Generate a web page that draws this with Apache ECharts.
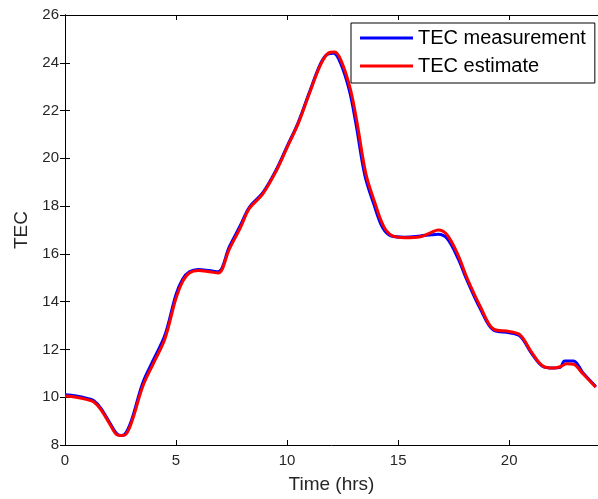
<!DOCTYPE html>
<html>
<head>
<meta charset="utf-8">
<script src="https://cdn.jsdelivr.net/npm/echarts@6/dist/echarts.min.js"></script>
<style>html,body{margin:0;padding:0;background:#fff;}#c{width:598px;height:499px;}</style>
</head>
<body>
<div id="c"></div>
<script>
var timesMeas = [0, 0.5, 1.0, 1.3, 1.6, 2.0, 2.3, 2.5, 2.7, 3.0, 3.5, 4.0, 4.5, 5.0, 5.3, 5.6, 6.0, 6.5, 6.9, 7.4, 7.9, 8.3, 8.9, 9.5, 10.0, 10.5, 11.0, 11.5, 11.8, 12.1, 12.4, 12.8, 13.1, 13.5, 13.9, 14.3, 14.7, 15.3, 16.0, 16.5, 16.8, 17.2, 17.7, 18.1, 18.7, 19.3, 20.0, 20.5, 21.0, 21.5, 22.0, 22.3, 22.5, 22.9, 23.3, 23.9];
var tecMeasurement = [10.1, 10.05, 9.95, 9.85, 9.55, 8.95, 8.5, 8.4, 8.45, 9.05, 10.6, 11.6, 12.6, 14.3, 14.95, 15.25, 15.35, 15.3, 15.25, 16.3, 17.2, 17.95, 18.55, 19.5, 20.5, 21.5, 22.75, 23.95, 24.35, 24.4, 24.0, 22.85, 21.45, 19.3, 18.1, 17.1, 16.75, 16.7, 16.75, 16.8, 16.82, 16.65, 15.8, 14.9, 13.7, 12.8, 12.7, 12.55, 11.85, 11.3, 11.22, 11.25, 11.52, 11.52, 11.05, 10.45];

var timesEst = [0, 0.5, 1.0, 1.3, 1.6, 2.0, 2.3, 2.5, 2.7, 3.0, 3.5, 4.0, 4.5, 5.0, 5.3, 5.6, 6.0, 6.5, 6.9, 7.4, 7.9, 8.3, 8.9, 9.5, 10.0, 10.5, 11.0, 11.5, 11.85, 12.15, 12.45, 12.85, 13.15, 13.55, 13.95, 14.35, 14.75, 15.3, 16.0, 16.5, 16.8, 17.2, 17.7, 18.1, 18.7, 19.3, 20.0, 20.5, 21.0, 21.5, 22.0, 22.3, 22.6, 22.9, 23.3, 23.9];
var tecEstimate = [10.05, 10.0, 9.9, 9.8, 9.5, 8.9, 8.45, 8.4, 8.42, 8.95, 10.45, 11.45, 12.45, 14.15, 14.85, 15.2, 15.3, 15.25, 15.2, 16.2, 17.1, 17.9, 18.5, 19.45, 20.45, 21.45, 22.7, 23.9, 24.4, 24.45, 24.05, 22.9, 21.5, 19.35, 18.15, 17.15, 16.75, 16.68, 16.72, 16.9, 17.0, 16.8, 15.95, 15.0, 13.8, 12.85, 12.75, 12.6, 11.9, 11.32, 11.22, 11.28, 11.4, 11.38, 11.0, 10.42];

var xTicks = [0, 5, 10, 15, 20];
var yTicks = [8, 10, 12, 14, 16, 18, 20, 22, 24, 26];

function pairs(t, v) { return t.map(function (x, i) { return [x, v[i]]; }); }

var chart = echarts.init(document.getElementById('c'));
var font = '"Liberation Sans", Arial, sans-serif';
var axisCol = '#000';
var txtCol = '#262626';

chart.setOption({
  animation: false,
  backgroundColor: '#fff',
  textStyle: { fontFamily: font },
  grid: { left: 65, top: 15, width: 535, height: 430, containLabel: false },
  xAxis: [{
    type: 'value', min: 0, max: 24, interval: 5, position: 'bottom',
    name: 'Time (hrs)', nameLocation: 'middle', nameGap: 30,
    nameTextStyle: { fontSize: 19, color: txtCol, fontFamily: font },
    axisLine: { show: true, lineStyle: { color: axisCol, width: 1 } },
    axisTick: { show: true, inside: true, length: 5, lineStyle: { color: axisCol } },
    axisLabel: { fontSize: 15, color: txtCol, margin: 8, showMaxLabel: false, fontFamily: font,
      formatter: function (v) { return xTicks.indexOf(v) >= 0 ? String(v) : ''; } },
    splitLine: { show: false }
  }, {
    type: 'value', min: 0, max: 24, interval: 5, position: 'top',
    axisLine: { show: true, lineStyle: { color: axisCol, width: 1 } },
    axisTick: { show: true, inside: true, length: 5, lineStyle: { color: axisCol } },
    axisLabel: { show: false },
    splitLine: { show: false }
  }],
  yAxis: [{
    type: 'value', min: 8, max: 26, interval: 2, position: 'left',
    name: 'TEC', nameLocation: 'middle', nameGap: 33, nameRotate: 90,
    nameTextStyle: { fontSize: 19, color: txtCol, fontFamily: font },
    axisLine: { show: true, lineStyle: { color: axisCol, width: 1 } },
    axisTick: { show: true, inside: true, length: 5, lineStyle: { color: axisCol } },
    axisLabel: { fontSize: 15, color: txtCol, margin: 6, fontFamily: font,
      formatter: function (v) { return yTicks.indexOf(v) >= 0 ? String(v) : ''; } },
    splitLine: { show: false }
  }, {
    type: 'value', min: 8, max: 26, interval: 2, position: 'right',
    axisLine: { show: true, lineStyle: { color: axisCol, width: 1 } },
    axisTick: { show: true, inside: true, length: 5, lineStyle: { color: axisCol } },
    axisLabel: { show: false },
    splitLine: { show: false }
  }],
  legend: {
    left: 351, top: 23, orient: 'vertical',
    backgroundColor: '#fff', borderColor: '#000', borderWidth: 1, borderRadius: 0,
    padding: [4, 9, 6, 9], itemGap: 6,
    itemWidth: 53, itemHeight: 3, icon: 'rect',
    textStyle: { fontSize: 20, color: '#000', lineHeight: 22, fontFamily: font, padding: [0, 0, 0, 0] },
    data: ['TEC measurement', 'TEC estimate']
  },
  series: [{
    name: 'TEC measurement', type: 'line', smooth: 0.35, symbol: 'none',
    data: pairs(timesMeas, tecMeasurement),
    lineStyle: { color: '#0000ff', width: 3 }, itemStyle: { color: '#0000ff' }
  }, {
    name: 'TEC estimate', type: 'line', smooth: 0.35, symbol: 'none',
    data: pairs(timesEst, tecEstimate),
    lineStyle: { color: '#ff0000', width: 3 }, itemStyle: { color: '#ff0000' }
  }]
});
</script>
</body>
</html>
